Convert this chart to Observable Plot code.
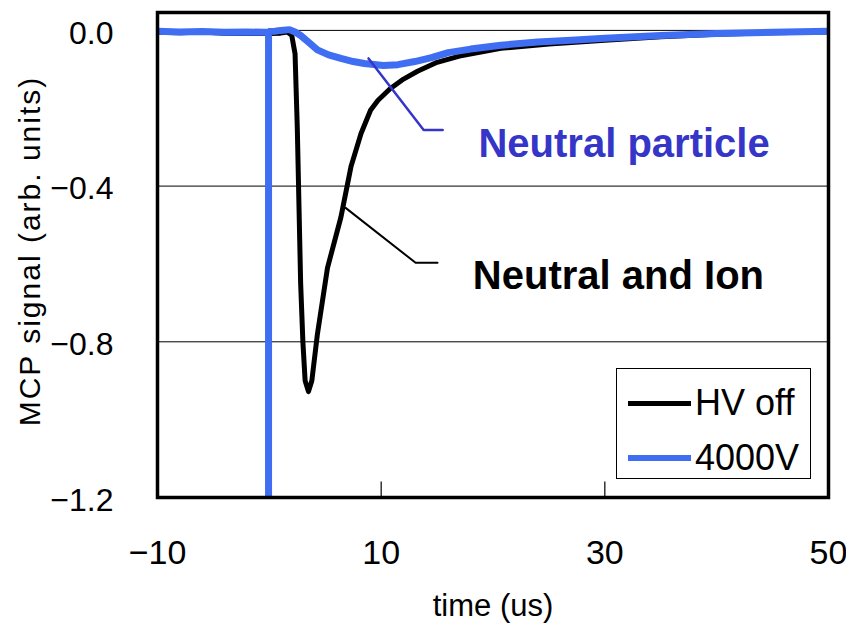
<!DOCTYPE html>
<html>
<head>
<meta charset="utf-8">
<script src="https://cdn.jsdelivr.net/npm/d3@7"></script>
<script src="https://cdn.jsdelivr.net/npm/@observablehq/plot@0.6"></script>
<style>
  html, body { margin: 0; padding: 0; background: #fff; }
  #wrap { position: relative; width: 846px; height: 630px; }
  #legend {
    position: absolute; left: 616px; top: 368px; width: 193px; height: 109px;
    border: 1.5px solid #000; background: #fff; box-sizing: content-box;
    font-family: "Liberation Sans", Arial, sans-serif; font-size: 36px; color: #000;
  }
  .row { position: absolute; left: 11px; display: flex; align-items: center; }
  .sw { width: 63px; margin-right: 4px; }
</style>
</head>
<body>
<div id="wrap"><div id="chart"></div>
  <div id="legend">
    <div class="row" style="top:13px"><div class="sw" style="height:5px;background:#000"></div><span>HV off</span></div>
    <div class="row" style="top:68px"><div class="sw" style="height:6px;background:#3f6ef2"></div><span>4000V</span></div>
  </div>
</div>
<script>
// ---- data ----
const hvOffTime = [-10, -8, -6, -4, -2, 0, 1, 1.6, 2.0, 2.3, 2.5, 2.65, 2.8, 3.0, 3.2, 3.5, 3.8, 4.3, 5.2, 6.4, 7.3, 8.2, 9.05, 9.7, 10.8, 12, 13.25, 15, 17, 20.7, 25, 30, 35, 40, 45, 50];
const hvOffSignal = [-0.005, -0.006, -0.004, -0.007, -0.008, -0.008, -0.007, -0.004, -0.012, -0.06, -0.25, -0.45, -0.65, -0.8, -0.9, -0.928, -0.9, -0.78, -0.61, -0.48, -0.35, -0.265, -0.205, -0.18, -0.15, -0.125, -0.105, -0.082, -0.066, -0.046, -0.035, -0.025, -0.016, -0.01, -0.006, -0.004];

const hv4000Time = [-10, -8, -6, -4, -2, -0.5, -0.07, -0.07, -0.07, 0.5, 1.0, 1.8, 2.3, 2.8, 3.5, 4.3, 5.3, 6.4, 7.5, 8.5, 10.2, 11.5, 13, 14.5, 16, 18, 20.7, 24, 27, 30, 35, 40, 45, 50];
const hv4000Signal = [-0.002, -0.004, -0.003, -0.005, -0.004, -0.005, -0.005, -1.3, -0.003, -0.002, 0.0, 0.002, -0.004, -0.013, -0.03, -0.05, -0.063, -0.072, -0.08, -0.085, -0.09, -0.088, -0.08, -0.07, -0.057, -0.048, -0.038, -0.03, -0.025, -0.02, -0.013, -0.008, -0.005, -0.002];

const xTicks = [-10, 10, 30, 50];
const xInnerTicks = [10, 30];
const yTicks = [0, -0.4, -0.8, -1.2];
const gridValues = [0, -0.4, -0.8];

// annotation leader lines and labels (data units)
const neutralLeader = [[8.87, -0.072], [13.8, -0.256], [15.5, -0.256]];
const ionLeader = [[6.82, -0.456], [13.08, -0.597], [15.04, -0.597]];
const labels = [
  {text: "Neutral particle", t: 18.7, v: -0.292, color: "#3535c8"},
  {text: "Neutral and Ion", t: 18.2, v: -0.631, color: "#000"}
];

const hvOff = hvOffTime.map((t, i) => ({t, v: hvOffSignal[i]}));
const hv4000 = hv4000Time.map((t, i) => ({t, v: hv4000Signal[i]}));

const chart = Plot.plot({
  width: 846,
  height: 630,
  marginLeft: 157,
  marginRight: 18,
  marginTop: 12,
  marginBottom: 133,
  style: {fontFamily: "'Liberation Sans', Arial, sans-serif", background: "#fff"},
  x: {domain: [-10, 50]},
  y: {domain: [-1.2, 0.046]},
  marks: [
    Plot.ruleY(gridValues, {stroke: "#000", strokeWidth: 1}),
    Plot.ruleX(xInnerTicks, {y1: -1.2, y2: -1.16, stroke: "#000", strokeWidth: 1.2}),
    Plot.line(hvOff, {x: "t", y: "v", stroke: "#000", strokeWidth: 5, clip: true, strokeLinejoin: "round"}),
    Plot.line(hv4000, {x: "t", y: "v", stroke: "#3f6ef2", strokeWidth: 7, clip: true, strokeLinejoin: "miter"}),
    Plot.line(ionLeader, {x: d => d[0], y: d => d[1], stroke: "#000", strokeWidth: 2}),
    Plot.line(neutralLeader, {x: d => d[0], y: d => d[1], stroke: "#3535c8", strokeWidth: 2.5}),
    Plot.text(labels, {x: "t", y: "v", text: "text", fill: "color", textAnchor: "start", fontSize: 40, fontWeight: "bold"}),
    Plot.frame({stroke: "#000", strokeWidth: 3.5}),
    Plot.axisY({ticks: yTicks, tickSize: 0, tickPadding: 44, fontSize: 32, dy: 3, label: null, tickFormat: d3.format(".1f")}),
    Plot.axisX({ticks: xTicks, tickSize: 0, tickPadding: 42, fontSize: 34, label: null}),
    Plot.text(["time (us)"], {frameAnchor: "bottom", lineAnchor: "middle", dy: 109, fontSize: 31, text: d => d}),
    Plot.text(["MCP signal (arb. units)"], {frameAnchor: "left", textAnchor: "middle", lineAnchor: "middle", dx: -127, dy: -4, rotate: -90, fontSize: 30, text: d => d})
  ]
});
// widen the y-axis title's letter spacing as in the reference
d3.select(chart).selectAll("text").filter(function() { return this.textContent === "MCP signal (arb. units)"; })
  .attr("letter-spacing", "2px");
document.getElementById("chart").appendChild(chart);
</script>
</body>
</html>
